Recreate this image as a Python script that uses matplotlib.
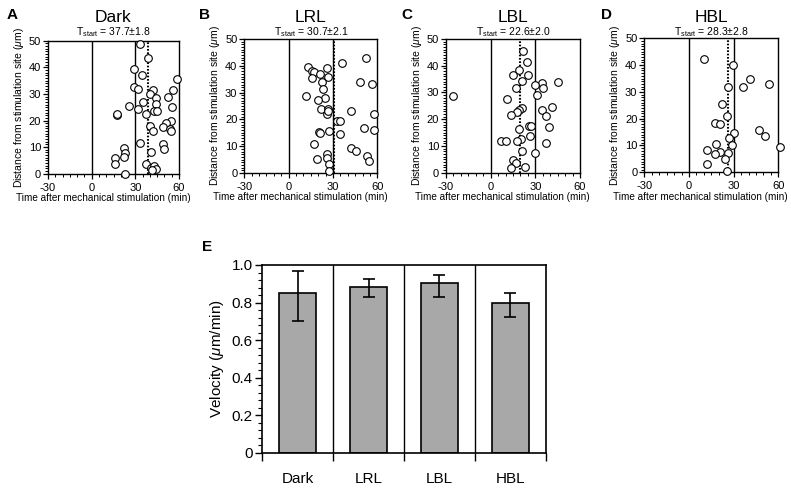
import matplotlib
matplotlib.use("Agg")
import matplotlib.pyplot as plt
from matplotlib.ticker import MultipleLocator, FixedLocator, FuncFormatter

plt.rcParams['font.family'] = ['Liberation Sans', 'DejaVu Sans']
plt.rcParams['mathtext.fontset'] = 'custom'
plt.rcParams['mathtext.rm'] = 'Liberation Sans'
plt.rcParams['mathtext.it'] = 'Liberation Sans:italic'
plt.rcParams['axes.unicode_minus'] = False

# ---------------- data ----------------
panel_letters = ["A", "B", "C", "D"]
panel_titles = ["Dark", "LRL", "LBL", "HBL"]
tstart_mean = ["37.7", "30.7", "22.6", "28.3"]
tstart_sd = ["1.8", "2.1", "2.0", "2.8"]
dotted_x = [39.0, 30.6, 19.6, 26.5]

dark_x = [33.2, 38.6, 29.3, 34.8, 58.4, 29.3, 31.8, 42.0, 56.1, 40.2, 44.5, 52.7,
          35.2, 43.9, 25.7, 55.0, 31.8, 42.7, 44.8, 17.2, 17.6, 37.5, 54.8, 50.9,
          39.8, 49.3, 54.1, 54.6, 42.3, 33.0, 49.3, 49.8, 22.5, 23.2, 40.7, 22.3,
          16.1, 16.1, 37.0, 40.5, 42.7, 44.1, 41.6, 23.2]
dark_y = [48.7, 43.6, 39.5, 37.1, 35.5, 32.5, 31.8, 31.5, 31.5, 29.8, 28.6, 28.7,
          27.1, 26.1, 25.4, 25.1, 24.3, 23.6, 23.6, 22.2, 22.5, 22.3, 19.8, 19.2,
          18.0, 17.4, 16.9, 16.2, 16.0, 11.7, 11.2, 9.4, 9.8, 7.6, 8.0, 6.1,
          5.9, 3.8, 3.5, 2.3, 2.8, 1.8, 1.4, 0.0]

lrl_x = [52.5, 36.4, 13.4, 15.9, 17.3, 21.1, 25.7, 26.4, 16.1, 22.3, 48.6, 56.6,
         23.0, 11.8, 24.3, 20.2, 21.6, 26.6, 25.7, 26.8, 42.3, 58.0, 33.0, 35.0,
         50.9, 58.0, 27.5, 20.5, 21.0, 34.8, 17.0, 42.3, 45.9, 53.0, 54.5, 19.3,
         26.1, 26.1, 27.3, 27.3]
lrl_y = [43.0, 41.2, 39.6, 38.1, 37.7, 36.9, 39.2, 35.7, 35.3, 34.0, 34.1, 33.3,
         31.3, 28.7, 27.9, 27.1, 24.0, 24.0, 22.0, 23.1, 23.1, 22.0, 19.5, 19.5,
         16.9, 16.0, 15.7, 15.4, 15.0, 14.4, 10.8, 9.3, 8.1, 6.2, 4.5, 5.1,
         7.1, 5.5, 3.5, 0.6]

lbl_x = [-25.2, 22.0, 24.3, 18.9, 15.1, 25.4, 21.1, 17.3, 34.8, 44.9, 29.7, 35.1,
         31.2, 10.8, 41.3, 21.1, 18.9, 17.5, 34.8, 13.9, 37.1, 39.3, 25.8, 27.4,
         18.9, 26.1, 36.9, 7.0, 10.1, 20.2, 17.8, 21.1, 29.9, 15.1, 17.3, 13.9,
         22.9]
lbl_y = [28.7, 45.5, 41.5, 38.4, 36.5, 36.5, 34.4, 31.8, 33.4, 33.9, 32.7, 31.5,
         29.1, 27.4, 24.7, 24.1, 23.4, 22.6, 23.6, 21.7, 21.2, 17.2, 17.5, 17.5,
         16.5, 13.7, 11.0, 11.8, 11.8, 12.5, 11.8, 8.2, 7.4, 4.6, 3.7, 1.9,
         2.0]

hbl_x = [9.9, 29.9, 41.1, 53.5, 36.2, 26.1, 22.2, 25.6, 17.5, 20.9, 47.2, 50.8,
         30.1, 27.2, 29.2, 60.9, 18.0, 12.1, 20.7, 17.3, 26.3, 24.0, 12.4, 25.8]
hbl_y = [42.2, 40.0, 34.8, 33.1, 32.0, 32.0, 25.5, 21.1, 18.5, 17.9, 15.8, 13.6,
         14.8, 12.9, 10.2, 9.5, 10.6, 8.2, 7.7, 6.7, 7.2, 5.0, 3.0, 0.6]

scatter_x = [dark_x, lrl_x, lbl_x, hbl_x]
scatter_y = [dark_y, lrl_y, lbl_y, hbl_y]

bar_labels = ["Dark", "LRL", "LBL", "HBL"]
bar_values = [0.849, 0.885, 0.902, 0.799]
err_upper = [0.970, 0.927, 0.948, 0.853]
err_lower = [0.703, 0.831, 0.831, 0.725]

# ---------------- layout ----------------
W, H = 791, 493
fig = plt.figure(figsize=(W / 100, H / 100), dpi=100)


def px_axes(left, right, top, bottom):
    return fig.add_axes([left / W, 1 - bottom / H, (right - left) / W, (bottom - top) / H])


scatter_boxes = [(48, 179, 40.7, 173.7), (244.3, 377.3, 39, 173),
                 (446, 580, 39, 172.7), (644.3, 778.3, 38.3, 172.3)]
letter_px = [(12, 15), (204, 15), (407, 15), (607, 15)]

for i in range(4):
    l, r, t, b = scatter_boxes[i]
    ax = px_axes(l, r, t, b)
    ax.set_xlim(-30, 60)
    ax.set_ylim(0, 50)
    ax.axvline(0, color='black', lw=1.0)
    ax.axvline(30, color='black', lw=1.0)
    ax.axvline(dotted_x[i], color='black', lw=1.5, ls=(0, (0.8, 0.8)))
    ax.plot(scatter_x[i], scatter_y[i], 'o', ms=5.5, mfc='white', mec='black',
            mew=0.8, clip_on=False, zorder=5)
    ax.xaxis.set_major_locator(MultipleLocator(30))
    ax.xaxis.set_minor_locator(MultipleLocator(5))
    ax.yaxis.set_major_locator(MultipleLocator(10))
    ax.yaxis.set_minor_locator(MultipleLocator(1))
    ax.tick_params(which='major', direction='out', length=3.5, width=0.9,
                   labelsize=8, pad=1.5)
    ax.tick_params(axis='x', which='major', pad=3)
    ax.tick_params(which='minor', direction='out', length=2, width=0.7)
    for s in ax.spines.values():
        s.set_linewidth(1.0)
    ax.set_xlabel("Time after mechanical stimulation (min)", fontsize=7.2, labelpad=2)
    ax.xaxis.set_label_coords(0.42, -0.145)
    ax.set_ylabel("Distance from stimulation site ($\\mu$m)", fontsize=7.5, labelpad=2)
    cx = (l + r) / 2
    fig.text(cx / W, 1 - 17 / H, panel_titles[i], ha='center', va='center', fontsize=12.5)
    fig.text(cx / W, 1 - 32 / H,
             "T$_{\\mathrm{start}}$ = " + tstart_mean[i] + "\u00b1" + tstart_sd[i],
             ha='center', va='center', fontsize=7.5)
    lx, ly = letter_px[i]
    fig.text(lx / W, 1 - ly / H, panel_letters[i], ha='center', va='center',
             fontsize=11, fontweight='bold')

# ---------------- panel E ----------------
axe = px_axes(262.3, 545.7, 265, 452.7)
xs = list(range(len(bar_labels)))
yerr = [[v - lo for v, lo in zip(bar_values, err_lower)],
        [up - v for v, up in zip(bar_values, err_upper)]]
axe.bar(xs, bar_values, width=0.52, color='#a8a8a8', edgecolor='black', lw=1.2, zorder=2)
axe.errorbar(xs, bar_values, yerr=yerr, fmt='none', ecolor='black', elinewidth=1.2,
             capsize=4.5, capthick=1.2, zorder=3)
for d in [0.5, 1.5, 2.5]:
    axe.axvline(d, color='black', lw=1.0, zorder=1)
axe.set_xlim(-0.5, 3.5)
axe.set_ylim(0, 1.0)
axe.yaxis.set_major_locator(MultipleLocator(0.2))
axe.yaxis.set_minor_locator(MultipleLocator(0.04))
axe.yaxis.set_major_formatter(FuncFormatter(lambda v, p: "0" if abs(v) < 1e-9 else f"{v:.1f}"))
axe.xaxis.set_major_locator(FixedLocator([-0.5, 0.5, 1.5, 2.5, 3.5]))
axe.xaxis.set_major_formatter(FuncFormatter(lambda v, p: ""))
axe.xaxis.set_minor_locator(FixedLocator(xs))
axe.xaxis.set_minor_formatter(FuncFormatter(lambda v, p: bar_labels[int(round(v))]))
axe.tick_params(axis='x', which='major', direction='out', length=6, width=1.0)
axe.tick_params(axis='x', which='minor', length=0, labelsize=11, pad=14)
axe.tick_params(axis='y', which='major', direction='out', length=5, width=1.0,
                labelsize=11, pad=2)
axe.tick_params(axis='y', which='minor', direction='out', length=3, width=0.8)
for s in axe.spines.values():
    s.set_linewidth(1.2)
axe.set_ylabel("Velocity ($\\mu$m/min)", fontsize=11, labelpad=4)
fig.text(207 / W, 1 - 247 / H, "E", ha='center', va='center', fontsize=11, fontweight='bold')

fig.savefig("out.png", dpi=100)
